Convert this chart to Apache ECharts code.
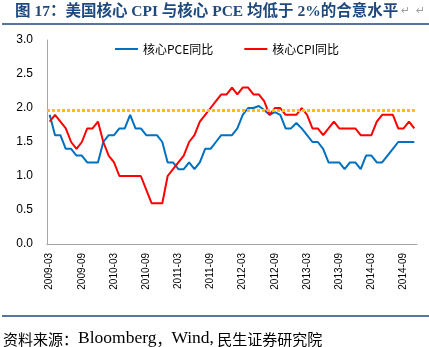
<!DOCTYPE html>
<html>
<head>
<meta charset="utf-8">
<script src="https://cdn.jsdelivr.net/npm/echarts@6/dist/echarts.min.js"></script>
<style>
html,body{margin:0;padding:0;background:#fff;}
#chart{width:429px;height:347px;}
</style>
</head>
<body>
<div id="chart"></div>
<script>
const categories = [
  '2009-03','2009-04','2009-05','2009-06','2009-07','2009-08','2009-09','2009-10','2009-11','2009-12',
  '2010-01','2010-02','2010-03','2010-04','2010-05','2010-06','2010-07','2010-08','2010-09','2010-10','2010-11','2010-12',
  '2011-01','2011-02','2011-03','2011-04','2011-05','2011-06','2011-07','2011-08','2011-09','2011-10','2011-11','2011-12',
  '2012-01','2012-02','2012-03','2012-04','2012-05','2012-06','2012-07','2012-08','2012-09','2012-10','2012-11','2012-12',
  '2013-01','2013-02','2013-03','2013-04','2013-05','2013-06','2013-07','2013-08','2013-09','2013-10','2013-11','2013-12',
  '2014-01','2014-02','2014-03','2014-04','2014-05','2014-06','2014-07','2014-08','2014-09','2014-10','2014-11'
];
const corePCE = [
  1.9,1.6,1.6,1.4,1.4,1.3,1.3,1.2,1.2,1.2,
  1.5,1.6,1.6,1.7,1.7,1.9,1.7,1.7,1.6,1.6,
  1.6,1.5,1.2,1.2,1.1,1.1,1.2,1.1,1.2,1.4,
  1.4,1.5,1.6,1.6,1.6,1.7,1.9,2.0,2.0,2.03,
  1.97,1.9,1.94,1.9,1.7,1.7,1.78,1.7,1.6,1.5,
  1.5,1.4,1.2,1.2,1.2,1.1,1.2,1.2,1.1,1.3,
  1.3,1.2,1.2,1.3,1.4,1.5,1.5,1.5,1.5
];
const coreCPI = [
  1.8,1.9,1.8,1.7,1.5,1.4,1.5,1.7,1.7,1.8,
  1.5,1.3,1.2,1.0,1.0,1.0,1.0,1.0,0.8,0.6,
  0.6,0.6,1.0,1.1,1.2,1.3,1.5,1.6,1.8,1.9,
  2.0,2.1,2.2,2.2,2.3,2.2,2.3,2.3,2.2,2.2,
  2.1,1.9,2.0,2.0,1.9,1.9,1.9,2.0,1.9,1.7,
  1.7,1.6,1.7,1.8,1.7,1.7,1.7,1.7,1.6,1.6,
  1.6,1.8,1.9,1.9,1.9,1.7,1.7,1.8,1.7
];
const targetLevel = 1.96;
const yTicks = [0, 0.5, 1.0, 1.5, 2.0, 2.5, 3.0];
const seriesNames = ['核心PCE同比', '核心CPI同比'];
const titleText = '图 17：美国核心 CPI 与核心 PCE 均低于 2%的合意水平';
const sourceParts = ['资料来源：', 'Bloomberg', '，', 'Wind,', ' 民生证券研究院'];

const navy = '#1F497D';
const chart = echarts.init(document.getElementById('chart'), null, {renderer: 'canvas'});
chart.setOption({
  animation: false,
  backgroundColor: '#fff',
  grid: {left: 47, right: 12, top: 40, bottom: 103, containLabel: false},
  legend: {
    data: seriesNames,
    left: 110, top: 38,
    icon: 'rect',
    itemWidth: 23, itemHeight: 2, itemGap: 31,
    textStyle: {fontSize: 12, color: '#000', fontFamily: '"Noto Sans CJK SC", sans-serif'}
  },
  xAxis: {
    type: 'category',
    data: categories,
    boundaryGap: true,
    axisLine: {show: true, lineStyle: {color: '#A6A6A6', width: 1}},
    axisTick: {show: false},
    axisLabel: {interval: 5, rotate: 90, margin: 9, fontSize: 10, color: '#000', fontFamily: '"Liberation Sans", Arial, sans-serif'},
    splitLine: {show: false}
  },
  yAxis: {
    type: 'value',
    min: yTicks[0], max: yTicks[yTicks.length - 1], interval: 0.5,
    axisLine: {show: true, lineStyle: {color: '#A6A6A6', width: 1}},
    axisTick: {show: false},
    splitLine: {show: false},
    axisLabel: {margin: 14, fontSize: 12, color: '#000', fontFamily: '"Liberation Sans", Arial, sans-serif',
      formatter: v => v.toFixed(1)}
  },
  series: [
    {
      name: seriesNames[0], type: 'line', data: corePCE,
      symbol: 'none', showSymbol: false,
      lineStyle: {color: '#0070C0', width: 2},
      itemStyle: {color: '#0070C0'},
      z: 3,
      markLine: {
        silent: true, symbol: 'none', animation: false,
        label: {show: false},
        lineStyle: {color: '#FFC000', width: 3, type: [3, 2], cap: 'butt'},
        data: [{yAxis: targetLevel}]
      }
    },
    {
      name: seriesNames[1], type: 'line', data: coreCPI,
      symbol: 'none', showSymbol: false,
      lineStyle: {color: '#FF0000', width: 2},
      itemStyle: {color: '#FF0000'},
      z: 4
    }
  ],
  graphic: [
    {type: 'text', left: 15, top: 4, style: {text: titleText, fill: navy,
      font: 'bold 15.5px "Liberation Serif", "Noto Sans CJK SC", serif'}},
    {type: 'text', left: 401, top: 6, style: {text: '↵', fill: '#A0A0A0', font: '11px "DejaVu Sans", sans-serif'}},
    {type: 'text', left: 416, top: 6, style: {text: '↵', fill: '#A0A0A0', font: '11px "DejaVu Sans", sans-serif'}},
    {type: 'line', shape: {x1: 2, y1: 24, x2: 429, y2: 24}, style: {stroke: navy, lineWidth: 1.5}},
    {type: 'line', shape: {x1: 2, y1: 316, x2: 429, y2: 316}, style: {stroke: navy, lineWidth: 1.5}},
    {type: 'text', left: 3, top: 329, style: {
      text: '{c|' + sourceParts[0] + '}{l|' + sourceParts[1] + '}{c|' + sourceParts[2] + '}{l|' + sourceParts[3] + '}{c|' + sourceParts[4] + '}',
      fill: '#000',
      rich: {
        c: {fontSize: 15, fontFamily: '"Noto Sans CJK SC", serif', fill: '#000', verticalAlign: 'bottom'},
        l: {fontSize: 17.5, fontFamily: '"Liberation Serif", serif', fill: '#000', verticalAlign: 'bottom'}
      }
    }}
  ]
});
</script>
</body>
</html>
